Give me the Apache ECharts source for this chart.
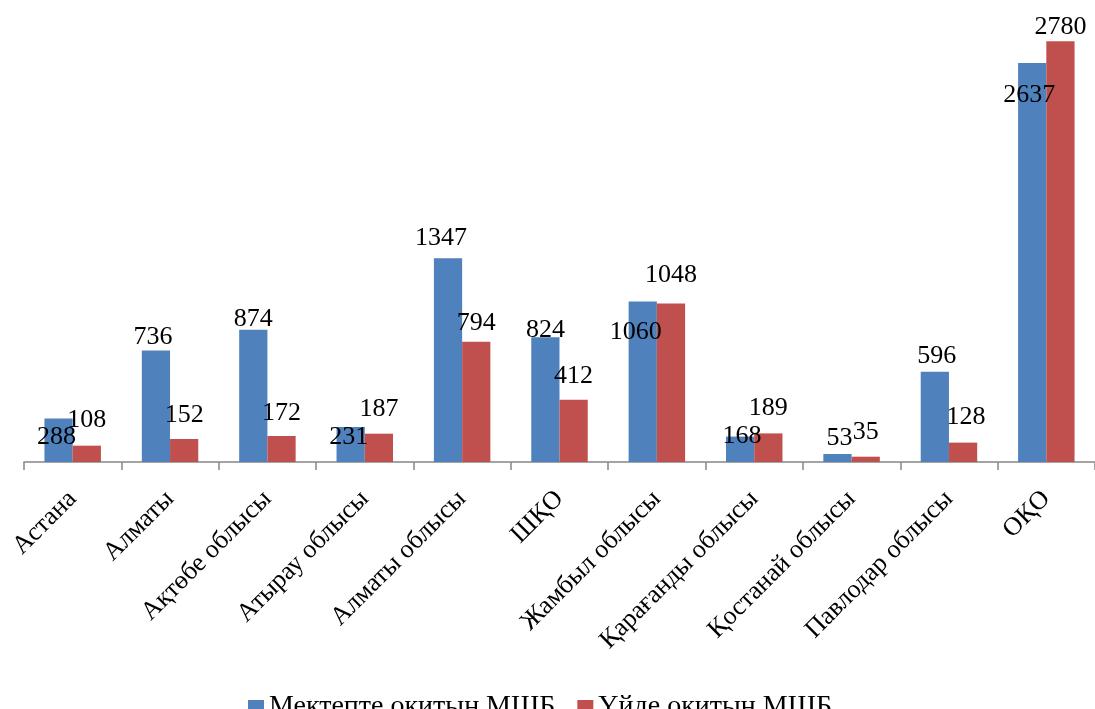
<!DOCTYPE html>
<html>
<head>
<meta charset="utf-8">
<script src="https://cdn.jsdelivr.net/npm/echarts@6/dist/echarts.min.js"></script>
<style>
html,body{margin:0;padding:0;background:#fff;}
#chart{width:1095px;height:709px;}
</style>
</head>
<body>
<div id="chart"></div>
<script>
const categories = ['Астана','Алматы','Ақтөбе облысы','Атырау облысы','Алматы облысы','ШҚО','Жамбыл облысы','Қарағанды облысы','Қостанай облысы','Павлодар облысы','ОҚО'];
const schoolValues = [288, 736, 874, 231, 1347, 824, 1060, 168, 53, 596, 2637];
const homeValues = [108, 152, 172, 187, 794, 412, 1048, 189, 35, 128, 2780];
const seriesNames = ['Мектепте окитын МШБ', 'Үйде окитын МШБ'];

// label offsets relative to top-centre of each bar (layout only)
const schoolLabelOffsets = [[-2,19],[-3,-13],[0,-11],[-2,10],[-7,-20],[0,-7],[-7,31],[2,0],[2,-16],[2,-16],[-3,32]];
const homeLabelOffsets = [[0,-25],[0,-24],[0,-23],[0,-25],[0,-19],[0,-23],[0,-28],[0,-25],[0,-25],[3,-25],[0,-14]];

const FONT = '"Liberation Serif", "Times New Roman", serif';

function buildData(values, offsets){
  return values.map((v,i)=>({
    value: v,
    label: { offset: offsets[i] }
  }));
}

const chart = echarts.init(document.getElementById('chart'), null, {renderer:'canvas'});
const labelBase = {
  show: true,
  position: ['50%', 0],
  align: 'center',
  verticalAlign: 'middle',
  color: '#000',
  fontFamily: FONT,
  fontSize: 26
};
chart.setOption({
  animation: false,
  backgroundColor: '#fff',
  grid: { left: 24, top: 8, width: 1073, bottom: 247, containLabel: false },
  legend: {
    data: seriesNames,
    top: 688,
    left: 243,
    itemWidth: 16,
    itemHeight: 14,
    itemGap: 22,
    icon: 'rect',
    textStyle: { fontFamily: FONT, fontSize: 28, color: '#000' }
  },
  xAxis: {
    type: 'category',
    data: categories,
    boundaryGap: true,
    axisLine: { lineStyle: { color: '#868686', width: 1.5 } },
    axisTick: { show: true, length: 8, lineStyle: { color: '#868686', width: 1.5 } },
    axisLabel: {
      interval: 0,
      rotate: 45,
      margin: 33,
      color: '#000',
      fontFamily: FONT,
      fontSize: 26
    }
  },
  yAxis: {
    type: 'value',
    min: 0,
    max: 3000,
    show: false,
    splitLine: { show: false }
  },
  series: [
    {
      name: seriesNames[0],
      type: 'bar',
      data: buildData(schoolValues, schoolLabelOffsets),
      itemStyle: { color: '#4F81BD' },
      barGap: '0%',
      barCategoryGap: '42%',
      label: labelBase
    },
    {
      name: seriesNames[1],
      type: 'bar',
      data: buildData(homeValues, homeLabelOffsets),
      itemStyle: { color: '#C0504D' },
      barGap: '0%',
      barCategoryGap: '42%',
      label: labelBase
    }
  ]
});
</script>
</body>
</html>
